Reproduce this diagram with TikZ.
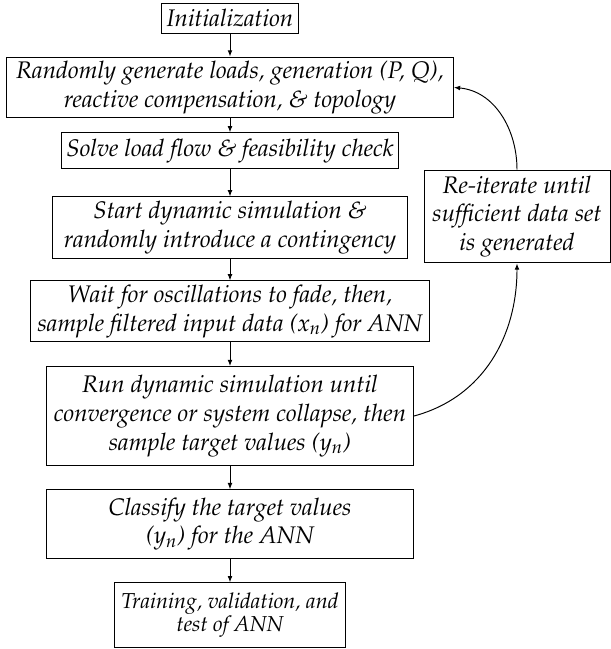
\documentclass[tikz,border=0pt]{standalone}
\usepackage[T1]{fontenc}
\usepackage{mathpazo}
\usepackage{tikz}
\usetikzlibrary{arrows.meta, positioning}

\begin{document}
\begin{tikzpicture}[
        x=0.4167pt, y=-0.4167pt,
        node distance=9.7pt,
        box/.style={rectangle, draw, line width=0.4pt, align=center, inner sep=1.5pt, font=\itshape},
        arrow/.style={-{Latex[length=2.6pt, width=2pt]}, line width=0.4pt}
    ]
    \useasboundingbox (0,0) rectangle (610,649);

    % Main chain
    \node (init) [box, minimum width=56.7pt, minimum height=12.5pt] at (230,18) {Initialization};
    \node (randgen) [box, below=9.6pt of init, minimum width=186.2pt, minimum height=25.4pt] {Randomly generate loads, generation (P, Q),\\ reactive compensation, \& topology};
    \node (loadflow) [box, below=5.8pt of randgen, minimum width=140.8pt, minimum height=15pt] {Solve load flow \& feasibility check};
    \node (startsim) [box, below=11.3pt of loadflow, minimum width=147.9pt, minimum height=25.8pt] {Start dynamic simulation \&\\ randomly introduce a contingency};
    \node (sample) [box, below=8.8pt of startsim, minimum width=166.2pt, minimum height=25.4pt] {Wait for oscillations to fade, then,\\ sample filtered input data (x\textsubscript{n}) for ANN};
    \node (runsim) [box, below=9.9pt of sample, minimum width=152.9pt, minimum height=41.2pt] {Run dynamic simulation until\\ convergence or system collapse, then\\ sample target values (y\textsubscript{n})};
    \node (classify) [box, below=of runsim, minimum width=152.9pt, minimum height=28.7pt] {Classify the target values\\ (y\textsubscript{n}) for the ANN};
    \node (train) [box, below=of classify, font={\fontsize{9}{9.6}\selectfont\itshape}, minimum width=96.2pt, minimum height=26.8pt] {Training, validation, and\\ test of ANN};

    % Loop back
    \node (iterate) [box, minimum width=77.5pt, minimum height=38.7pt] at (517,216.5) {Re-iterate until\\ sufficient data set\\ is generated};

    % Connectors
    \draw [arrow] (init) -- (randgen);
    \draw [arrow] (randgen) -- (loadflow);
    \draw [arrow] (loadflow) -- (startsim);
    \draw [arrow] (startsim) -- (sample);
    \draw [arrow] (sample) -- (runsim);
    \draw [arrow] (runsim) -- (classify);
    \draw [arrow] (classify) -- (train);

    \draw [arrow] (runsim.east) to[out=15, in=-90] (iterate.south);
    \draw [arrow] (iterate.north) to[out=90, in=-5] (randgen.east);

\end{tikzpicture}
\end{document}
